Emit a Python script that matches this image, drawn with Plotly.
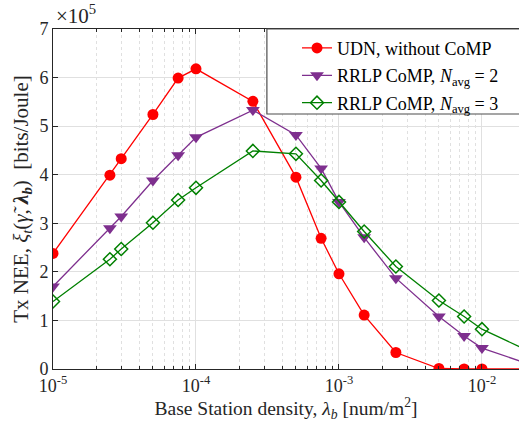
import plotly.graph_objects as go

# Base station densities [num/m^2]
density = [1e-5, 2.5e-5, 3e-5, 5e-5, 7.5e-5, 1e-4, 2.5e-4, 5e-4, 7.5e-4,
           1e-3, 1.5e-3, 2.5e-3, 5e-3, 7.5e-3, 1e-2, 2.5e-2]

# Tx NEE in units of 1e5 bits/Joule
nee_udn = [2.38, 3.99, 4.33, 5.24, 5.99, 6.18, 5.51, 3.95, 2.69,
           1.96, 1.11, 0.34, 0.01, 0.0, 0.0, 0.0]
nee_rrlp2 = [1.70, 2.90, 3.14, 3.88, 4.40, 4.77, 5.33, 4.82, 4.13,
             3.44, 2.71, 1.87, 1.08, 0.68, 0.43, 0.03]
nee_rrlp3 = [1.39, 2.26, 2.47, 3.01, 3.48, 3.73, 4.49, 4.43, 3.88,
             3.44, 2.83, 2.11, 1.41, 1.08, 0.82, 0.27]

series_names = ["UDN, without CoMP",
                "RRLP CoMP, <i>N</i><sub>avg</sub> = 2",
                "RRLP CoMP, <i>N</i><sub>avg</sub> = 3"]

x_ticks = [1e-5, 1e-4, 1e-3, 1e-2]
x_ticktext = ["10<sup>-5</sup>", "10<sup>-4</sup>", "10<sup>-3</sup>", "10<sup>-2</sup>"]
y_ticks = [0, 1, 2, 3, 4, 5, 6, 7]

FONT = "Liberation Serif"
AX = "#262626"
GRID = "#e0e0e0"

minor_vals = [m * 10.0 ** e for e in range(-5, -1) for m in range(2, 10)]

fig = go.Figure()
fig.add_trace(go.Scatter(
    x=density, y=nee_udn, name=series_names[0], mode="lines+markers",
    line=dict(color="#ff0000", width=1.3),
    marker=dict(symbol="circle", size=11, color="#ff0000"),
    legendgroup="a"))
fig.add_trace(go.Scatter(
    x=density, y=nee_rrlp2, name=series_names[1], mode="lines+markers",
    line=dict(color="#7e2f8e", width=1.3),
    marker=dict(symbol="triangle-down", size=12, color="#7e2f8e"),
    legendgroup="b"))
fig.add_trace(go.Scatter(
    x=density, y=nee_rrlp3, name=series_names[2], mode="lines+markers",
    line=dict(color="#008000", width=1.3),
    marker=dict(symbol="diamond-open", size=10, color="#008000",
                line=dict(width=1.5)),
    legendgroup="c"))

# legend frame
fig.add_shape(type="rect", xref="paper", yref="paper",
              x0=0.459, x1=1.05, y0=0.75, y1=1.0,
              line=dict(color="#4d4d4d", width=1.2), fillcolor="white",
              layer="above")

fig.add_annotation(text="×10<sup>5</sup>", xref="paper", yref="paper",
                   x=0.0, y=1.0, xanchor="left", yanchor="bottom",
                   showarrow=False, xshift=1, yshift=-1,
                   font=dict(family=FONT, size=21, color=AX))

fig.update_layout(
    width=519, height=422,
    margin=dict(l=53, r=0, t=29, b=53),
    paper_bgcolor="white", plot_bgcolor="white",
    font=dict(family=FONT, size=18, color=AX),
    showlegend=True,
    legend=dict(x=0.5236, y=0.998, xanchor="left", yanchor="top",
                bgcolor="rgba(0,0,0,0)", borderwidth=0,
                font=dict(family=FONT, size=18, color="#000000"),
                tracegroupgap=1, itemwidth=30),
    xaxis=dict(type="log", range=[-5, -1.741],
               tickvals=x_ticks, ticktext=x_ticktext,
               ticks="inside", ticklen=5, tickcolor=AX,
               showline=True, linecolor=AX, linewidth=1, mirror="ticks",
               showgrid=True, gridcolor=GRID, gridwidth=1,
               minor=dict(tickvals=minor_vals, ticks="inside", ticklen=3,
                          tickcolor=AX, showgrid=True, gridcolor=GRID,
                          griddash="dot", gridwidth=1),
               zeroline=False,
               tickfont=dict(family=FONT, size=18, color=AX),
               title=dict(text="Base Station density, <i>λ<sub>b</sub></i> [num/m<sup>2</sup>]",
                          font=dict(family=FONT, size=19.5, color=AX), standoff=2)),
    yaxis=dict(range=[0, 7], tickvals=y_ticks,
               ticks="inside", ticklen=5, tickcolor=AX,
               showline=True, linecolor=AX, linewidth=1, mirror=False,
               showgrid=True, gridcolor=GRID, gridwidth=1, zeroline=False,
               tickfont=dict(family=FONT, size=18, color=AX),
               title=dict(text="Tx NEE, <i>ξ<sub>t</sub></i>(<i>γ̃</i>, <b><i>λ<sub>b</sub></i></b>)  [bits/Joule]",
                          font=dict(family=FONT, size=21, color=AX), standoff=5)),
)

fig.write_html("out.html")
